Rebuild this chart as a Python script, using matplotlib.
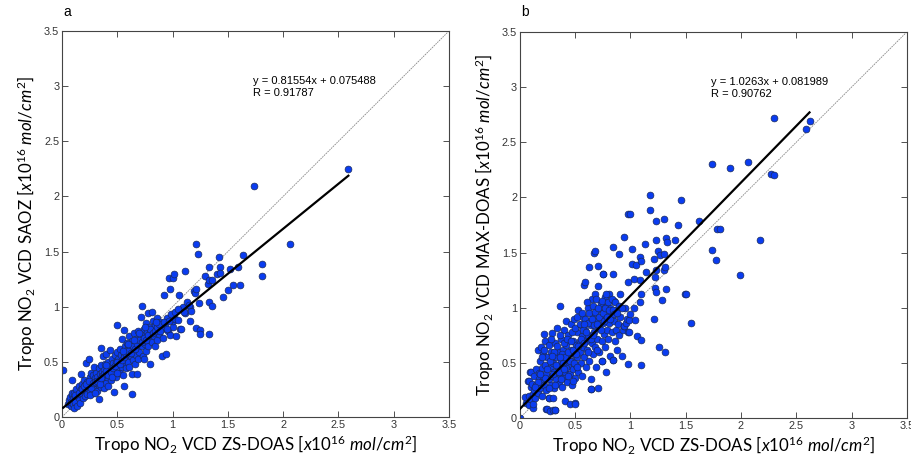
import matplotlib
matplotlib.use("Agg")
import matplotlib.pyplot as plt
import numpy as np

plt.rcParams['font.family'] = ['Liberation Sans', 'DejaVu Sans']
plt.rcParams['mathtext.fontset'] = 'custom'
plt.rcParams['mathtext.rm'] = 'Lato'
plt.rcParams['mathtext.it'] = 'Lato:italic'

# ---------------- Panel a: ZS-DOAS vs SAOZ ----------------
a_x = [0.01, 0.05, 0.06, 0.07, 0.08, 0.08, 0.09, 0.09, 0.09, 0.10, 0.10, 0.11, 0.11, 0.12, 0.12, 0.13, 0.14,
       0.14, 0.15, 0.15, 0.16, 0.16, 0.17, 0.17, 0.18, 0.18, 0.19, 0.19, 0.20, 0.20, 0.21, 0.21, 0.22,
       0.22, 0.23, 0.23, 0.24, 0.24, 0.25, 0.25, 0.26, 0.26, 0.27, 0.27, 0.28, 0.28, 0.29, 0.29, 0.30,
       0.30, 0.31, 0.31, 0.32, 0.32, 0.33, 0.33, 0.33, 0.34, 0.34, 0.35, 0.35, 0.35, 0.36, 0.36, 0.37,
       0.37, 0.37, 0.38, 0.38, 0.39, 0.39, 0.40, 0.40, 0.40, 0.41, 0.41, 0.42, 0.42, 0.43, 0.43, 0.44,
       0.44, 0.45, 0.45, 0.46, 0.46, 0.47, 0.47, 0.48, 0.48, 0.49, 0.49, 0.50, 0.50, 0.50, 0.51, 0.51,
       0.52, 0.52, 0.53, 0.53, 0.54, 0.54, 0.55, 0.55, 0.56, 0.56, 0.56, 0.57, 0.57, 0.58, 0.58, 0.59,
       0.59, 0.60, 0.60, 0.61, 0.61, 0.62, 0.62, 0.63, 0.63, 0.63, 0.64, 0.64, 0.65, 0.65, 0.66, 0.66,
       0.67, 0.67, 0.68, 0.68, 0.69, 0.69, 0.70, 0.70, 0.71, 0.71, 0.72, 0.72, 0.73, 0.73, 0.74, 0.74,
       0.75, 0.75, 0.76, 0.76, 0.77, 0.77, 0.78, 0.78, 0.79, 0.79, 0.80, 0.80, 0.81, 0.81, 0.82, 0.82,
       0.83, 0.84, 0.84, 0.85, 0.86, 0.86, 0.87, 0.88, 0.89, 0.90, 0.90, 0.91, 0.92, 0.93, 0.94, 0.95,
       0.96, 0.97, 0.98, 0.98, 0.99, 1.00, 1.00, 1.00, 1.01, 1.02, 1.03, 1.05, 1.06, 1.07, 1.08, 1.09,
       1.11, 1.11, 1.13, 1.16, 1.16, 1.17, 1.19, 1.20, 1.21, 1.21, 1.21, 1.23, 1.24, 1.25, 1.25, 1.29,
       1.32, 1.33, 1.33, 1.33, 1.33, 1.36, 1.36, 1.40, 1.42, 1.43, 1.43, 1.46, 1.50, 1.52, 1.55, 1.59,
       1.61, 1.64, 1.74, 1.81, 1.81, 2.06, 2.59,
       0.12, 0.15, 0.18, 0.20, 0.22, 0.24, 0.26, 0.28, 0.30, 0.32, 0.34, 0.36, 0.38, 0.40, 0.42, 0.44,
       0.46, 0.48, 0.50, 0.52, 0.54, 0.56, 0.58, 0.60, 0.62, 0.64, 0.66, 0.68, 0.70, 0.72, 0.74, 0.76,
       0.78, 0.80, 0.82, 0.84, 0.86, 0.88, 0.25, 0.35, 0.45, 0.55, 0.65, 0.75, 0.85, 0.30, 0.40, 0.50,
       0.60, 0.70, 0.92, 0.95, 1.02, 1.05, 1.10, 1.15, 0.97, 0.89]
a_y = [0.43, 0.12, 0.15, 0.18, 0.10, 0.14, 0.20, 0.34, 0.22, 0.16, 0.12, 0.22, 0.08, 0.18, 0.14, 0.25, 0.20,
       0.10, 0.17, 0.28, 0.22, 0.13, 0.25, 0.39, 0.20, 0.30, 0.17, 0.26, 0.23, 0.34, 0.29, 0.19, 0.49,
       0.26, 0.32, 0.21, 0.53, 0.28, 0.36, 0.24, 0.30, 0.40, 0.26, 0.33, 0.22, 0.38, 0.30, 0.45, 0.27,
       0.35, 0.40, 0.31, 0.24, 0.36, 0.16, 0.29, 0.44, 0.34, 0.39, 0.63, 0.27, 0.47, 0.33, 0.41, 0.30,
       0.37, 0.55, 0.43, 0.26, 0.35, 0.48, 0.39, 0.31, 0.57, 0.44, 0.36, 0.50, 0.28, 0.40, 0.61, 0.46,
       0.34, 0.42, 0.53, 0.38, 0.49, 0.23, 0.45, 0.56, 0.41, 0.50, 0.36, 0.83, 0.47, 0.59, 0.43, 0.53,
       0.40, 0.62, 0.49, 0.56, 0.45, 0.71, 0.52, 0.38, 0.79, 0.58, 0.28, 0.48, 0.64, 0.54, 0.44, 0.61,
       0.67, 0.50, 0.57, 0.73, 0.45, 0.55, 0.63, 0.21, 0.39, 0.69, 0.58, 0.52, 0.76, 0.61, 0.48, 0.66,
       0.56, 0.71, 0.39, 0.62, 0.78, 0.53, 0.67, 0.59, 0.91, 0.73, 1.01, 0.64, 0.55, 0.70, 0.53, 0.80,
       0.66, 0.74, 0.60, 0.85, 0.70, 0.77, 0.94, 0.64, 0.82, 0.72, 0.48, 0.76, 0.95, 0.68, 0.80, 0.87,
       0.73, 0.64, 0.83, 0.78, 0.90, 0.70, 0.82, 0.75, 0.86, 0.55, 0.80, 0.72, 1.11, 0.84, 0.57, 0.90,
       0.78, 1.26, 1.16, 0.74, 0.93, 0.82, 1.26, 0.87, 1.30, 0.89, 0.73, 0.88, 1.11, 0.80, 0.80, 1.00,
       0.94, 1.32, 1.04, 1.00, 0.87, 0.96, 1.14, 1.12, 1.16, 0.81, 1.57, 1.48, 1.03, 0.79, 0.75, 1.28,
       1.21, 1.36, 1.24, 1.04, 0.75, 1.24, 1.01, 1.30, 1.45, 1.36, 1.31, 1.09, 1.15, 1.34, 1.20, 1.36,
       1.20, 1.47, 2.09, 1.39, 1.28, 1.57, 2.25,
       0.20, 0.22, 0.25, 0.28, 0.30, 0.33, 0.26, 0.31, 0.32, 0.33, 0.30, 0.37, 0.39, 0.42, 0.38, 0.41,
       0.44, 0.46, 0.50, 0.48, 0.52, 0.54, 0.57, 0.60, 0.58, 0.64, 0.62, 0.66, 0.70, 0.68, 0.72, 0.70,
       0.74, 0.80, 0.76, 0.78, 0.82, 0.84, 0.20, 0.35, 0.36, 0.60, 0.70, 0.82, 0.86, 0.22, 0.47, 0.40,
       0.66, 0.76, 0.86, 0.80, 0.95, 0.98, 0.95, 1.02, 0.87, 0.78]
a_slope, a_icpt, a_r = 0.81554, 0.075488, 0.91787

# ---------------- Panel b: ZS-DOAS vs MAX-DOAS ----------------
b_x = [0.00, 0.05, 0.06, 0.07, 0.08, 0.08, 0.08, 0.09, 0.10, 0.10, 0.10, 0.11, 0.12, 0.12, 0.12, 0.13, 0.13,
       0.14, 0.15, 0.15, 0.16, 0.16, 0.17, 0.17, 0.18, 0.18, 0.19, 0.19, 0.20, 0.20, 0.21, 0.21, 0.22,
       0.22, 0.23, 0.23, 0.24, 0.24, 0.24, 0.25, 0.25, 0.26, 0.26, 0.26, 0.26, 0.27, 0.27, 0.28, 0.28,
       0.29, 0.29, 0.30, 0.30, 0.30, 0.31, 0.31, 0.32, 0.32, 0.32, 0.33, 0.33, 0.34, 0.34, 0.35, 0.35,
       0.36, 0.36, 0.37, 0.37, 0.38, 0.38, 0.39, 0.39, 0.40, 0.40, 0.41, 0.41, 0.42, 0.42, 0.43, 0.43,
       0.44, 0.44, 0.45, 0.45, 0.46, 0.46, 0.47, 0.47, 0.48, 0.48, 0.49, 0.49, 0.50, 0.50, 0.50, 0.51,
       0.51, 0.52, 0.52, 0.53, 0.53, 0.54, 0.54, 0.55, 0.55, 0.56, 0.56, 0.57, 0.57, 0.58, 0.58, 0.59,
       0.59, 0.60, 0.60, 0.61, 0.61, 0.62, 0.62, 0.63, 0.63, 0.64, 0.64, 0.64, 0.64, 0.65, 0.65, 0.66,
       0.66, 0.67, 0.67, 0.68, 0.68, 0.68, 0.69, 0.69, 0.70, 0.70, 0.71, 0.71, 0.71, 0.72, 0.72, 0.73,
       0.73, 0.74, 0.74, 0.74, 0.75, 0.75, 0.75, 0.76, 0.76, 0.77, 0.77, 0.78, 0.78, 0.79, 0.79, 0.80,
       0.80, 0.81, 0.81, 0.82, 0.82, 0.83, 0.83, 0.84, 0.84, 0.84, 0.84, 0.85, 0.85, 0.86, 0.87, 0.87,
       0.88, 0.89, 0.90, 0.90, 0.91, 0.91, 0.92, 0.93, 0.94, 0.94, 0.94, 0.95, 0.96, 0.97, 0.98, 0.98,
       0.98, 0.98, 0.99, 0.99, 1.00, 1.00, 1.01, 1.01, 1.03, 1.03, 1.04, 1.05, 1.06, 1.09, 1.09, 1.09,
       1.10, 1.10, 1.10, 1.10, 1.13, 1.14, 1.18, 1.18, 1.21, 1.21, 1.22, 1.22, 1.23, 1.23, 1.23, 1.23,
       1.25, 1.26, 1.27, 1.29, 1.30, 1.30, 1.30, 1.31, 1.31, 1.32, 1.32, 1.33, 1.40, 1.43, 1.46, 1.49,
       1.50, 1.55, 1.62, 1.74, 1.74, 1.77, 1.78, 1.81, 1.90, 1.99, 2.06, 2.17, 2.27, 2.30, 2.30, 2.59,
       2.62,
       0.20, 0.22, 0.23, 0.25, 0.27, 0.28, 0.30, 0.31, 0.33, 0.34, 0.35, 0.36, 0.37, 0.38, 0.39, 0.40,
       0.41, 0.42, 0.43, 0.44, 0.45, 0.46, 0.47, 0.48, 0.49, 0.50, 0.51, 0.52, 0.53, 0.54, 0.55, 0.56,
       0.57, 0.58, 0.59, 0.60, 0.61, 0.62, 0.63, 0.64, 0.65, 0.66, 0.67, 0.68, 0.69, 0.70, 0.71, 0.72,
       0.73, 0.74, 0.75, 0.76, 0.77, 0.78, 0.79, 0.80, 0.81, 0.82, 0.83, 0.84, 0.85, 0.86, 0.88, 0.90,
       0.92, 0.18, 0.16, 0.14, 0.26, 0.29, 0.32, 0.36, 0.40, 0.44, 0.48, 0.52, 0.58, 0.62, 0.66, 0.70]
b_y = [0.00, 0.19, 0.14, 0.34, 0.20, 0.12, 0.34, 0.42, 0.28, 0.17, 0.42, 0.31, 0.22, 0.09, 0.13, 0.25, 0.38,
       0.18, 0.44, 0.30, 0.62, 0.23, 0.35, 0.41, 0.27, 0.52, 0.33, 0.64, 0.20, 0.45, 0.38, 0.58, 0.76,
       0.30, 0.48, 0.70, 0.25, 0.40, 0.08, 0.08, 0.55, 0.18, 0.35, 0.66, 0.18, 0.06, 0.45, 0.30, 0.60,
       0.77, 0.38, 0.18, 0.50, 0.07, 0.27, 0.42, 0.07, 0.68, 0.07, 0.35, 0.55, 0.47, 0.82, 0.31, 0.60,
       1.02, 0.40, 0.52, 0.72, 0.28, 0.45, 0.62, 0.36, 0.80, 0.50, 0.15, 0.42, 0.66, 0.88, 0.33, 0.56,
       0.75, 0.47, 0.13, 0.40, 0.62, 0.85, 0.52, 0.30, 0.70, 0.44, 0.90, 0.58, 0.14, 0.36, 0.13, 0.66,
       0.48, 0.78, 0.55, 0.98, 0.42, 0.70, 0.60, 0.84, 0.50, 0.38, 0.74, 0.92, 0.64, 1.21, 0.55, 1.23,
       0.80, 0.46, 0.70, 0.88, 0.62, 1.00, 0.75, 1.37, 0.52, 0.26, 0.35, 0.84, 0.26, 0.68, 1.08, 0.94,
       0.58, 0.78, 1.50, 0.64, 1.12, 1.51, 0.88, 0.46, 0.98, 0.72, 0.27, 1.20, 1.38, 0.82, 0.60, 1.04,
       0.92, 0.52, 0.70, 0.52, 1.31, 0.86, 1.31, 0.99, 0.76, 1.10, 0.64, 0.90, 0.42, 1.02, 0.80, 0.95,
       0.72, 1.12, 0.86, 0.56, 1.00, 0.78, 0.92, 1.55, 0.53, 1.31, 0.53, 1.06, 0.88, 0.70, 0.98, 0.80,
       0.62, 0.85, 0.75, 1.49, 0.92, 1.12, 0.56, 0.80, 0.83, 1.64, 0.83, 1.00, 0.86, 0.90, 1.23, 0.49,
       1.85, 0.78, 0.89, 0.78, 0.94, 1.85, 1.53, 1.40, 1.26, 1.00, 0.89, 1.39, 0.74, 1.46, 1.25, 1.05,
       1.42, 1.12, 0.48, 0.71, 1.58, 1.32, 2.02, 1.89, 1.44, 0.90, 1.18, 1.28, 1.61, 1.34, 1.14, 1.79,
       1.51, 0.64, 1.48, 1.07, 1.49, 1.34, 1.80, 1.37, 0.60, 1.63, 1.17, 1.60, 1.61, 1.75, 1.98, 1.12,
       1.12, 0.86, 1.79, 2.30, 1.52, 1.43, 1.71, 1.71, 2.27, 1.30, 2.32, 1.61, 2.21, 2.72, 2.20, 2.62,
       2.69,
       0.55, 0.62, 0.36, 0.44, 0.52, 0.72, 0.40, 0.60, 0.48, 0.65, 0.42, 0.75, 0.35, 0.58, 0.50, 0.68,
       0.55, 0.45, 0.72, 0.60, 0.52, 0.70, 0.78, 0.62, 0.50, 0.82, 0.58, 0.92, 0.65, 0.85, 0.72, 0.95,
       0.80, 0.68, 0.90, 0.78, 1.05, 0.86, 0.95, 0.72, 0.90, 1.02, 0.84, 0.96, 1.08, 0.85, 1.00, 0.92,
       0.80, 1.06, 0.95, 0.88, 1.00, 1.12, 0.92, 1.05, 0.98, 0.90, 1.08, 0.98, 0.94, 1.05, 0.95, 1.02,
       1.00, 0.40, 0.33, 0.28, 0.27, 0.56, 0.30, 0.55, 0.44, 0.38, 0.34, 0.46, 0.85, 0.60, 0.75, 0.62]
b_slope, b_icpt, b_r = 1.0263, 0.081989, 0.90762

ylabels = [r"Tropo NO$_2$ VCD SAOZ [$\mathit{x10^{16}\ mol/cm^2}$]",
           r"Tropo NO$_2$ VCD MAX-DOAS [$\mathit{x10^{16}\ mol/cm^2}$]"]
xlabel = r"Tropo NO$_2$ VCD ZS-DOAS [$\mathit{x10^{16}\ mol/cm^2}$]"
ticks = [0, 0.5, 1, 1.5, 2, 2.5, 3, 3.5]
tick_labels = ["0", "0.5", "1", "1.5", "2", "2.5", "3", "3.5"]

fig = plt.figure(figsize=(9.12, 4.59), dpi=100)
axes = [fig.add_axes([0.068, 0.0915, 0.4243, 0.841]),
        fig.add_axes([0.570, 0.0893, 0.4243, 0.841])]

panels = [(a_x, a_y, a_slope, a_icpt, a_r, "a"), (b_x, b_y, b_slope, b_icpt, b_r, "b")]
for ax, (xs, ys, sl, ic, r, tag), yl in zip(axes, panels, ylabels):
    xs = np.array(xs); ys = np.array(ys)
    ax.plot([0, 3.5], [0, 3.5], color='#888888', lw=0.6, ls=(0, (2, 1)), zorder=1)
    ax.scatter(xs, ys, s=24, color='#0a3cf0', edgecolors='#1a2a5a', linewidths=0.5, zorder=2)
    xf = np.array([xs.min(), xs.max()])
    ax.plot(xf, ic + sl * xf, color='black', lw=1.6, zorder=3)
    ax.set_xlim(0, 3.5); ax.set_ylim(0, 3.5)
    ax.set_xticks(ticks); ax.set_xticklabels(tick_labels)
    ax.set_yticks(ticks); ax.set_yticklabels(tick_labels)
    ax.tick_params(direction='in', length=4, width=0.6, top=True, right=True,
                   labelsize=7.8, colors='#333333', pad=2)
    for s in ax.spines.values():
        s.set_color('#444444'); s.set_linewidth(0.8)
    ax.text(1.73, 3.045, f"y = {sl}x + {ic}", fontsize=8, va='center', ha='left')
    ax.text(1.73, 2.94, f"R = {r}", fontsize=8, va='center', ha='left')
    ax.set_xlabel(xlabel, fontsize=12.2, family='Lato', labelpad=3)
    ax.set_ylabel(yl, fontsize=12.2, family='Lato', labelpad=4)

fig.text(0.070, 0.973, "a", fontsize=10, va='center', ha='left')
fig.text(0.571, 0.973, "b", fontsize=10, va='center', ha='left')

fig.savefig("out.png", dpi=100)
